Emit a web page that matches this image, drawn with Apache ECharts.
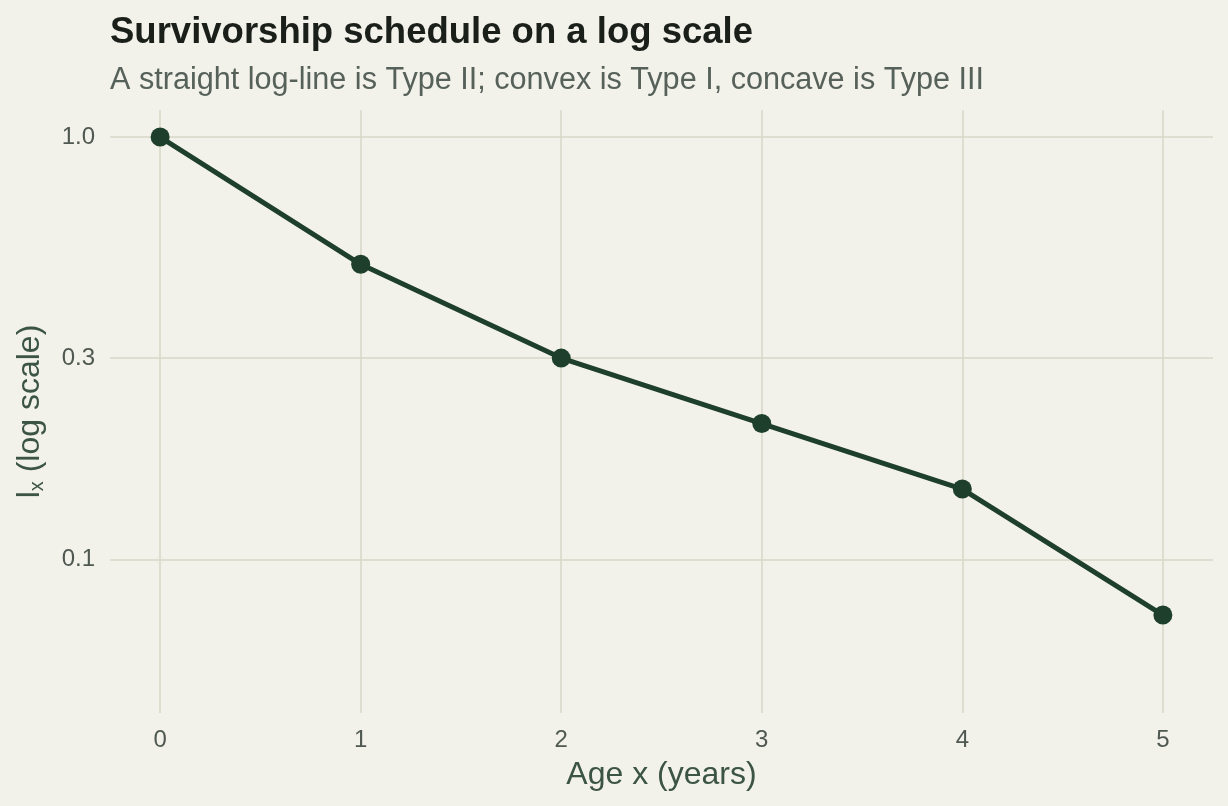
<!DOCTYPE html>
<html lang="en">

<head>
    <meta charset="UTF-8">
    <title>Survivorship schedule on a log scale</title>
    <script type="text/javascript" src="https://cdn.jsdelivr.net/npm/echarts@6/dist/echarts.min.js"></script>
    <style>
        html, body {
            margin: 0;
            padding: 0;
            background: #f2f1ea;
        }

        #main {
            width: 1228px;
            height: 806px;
        }
    </style>
</head>

<body>
    <div id="main"></div>

    <script type="text/javascript">
        // age classes and lx values
        var ages = [0, 1, 2, 3, 4, 5];
        var lx = [1.0, 0.5, 0.3, 0.21, 0.147, 0.074];
        var yTicks = [0.1, 0.3, 1.0];

        var data = [];
        for (var i = 0; i < ages.length; i++) {
            data.push([ages[i], lx[i]]);
        }

        var myChart = echarts.init(document.getElementById('main'));
        var font = '"Liberation Sans", Arial, Helvetica, sans-serif';

        var option = {
            backgroundColor: '#f2f1ea',
            animation: false,
            title: {
                text: 'Survivorship schedule on a log scale',
                subtext: 'A straight log-line is Type II; convex is Type I, concave is Type III',
                left: 105,
                top: 9,
                itemGap: 14,
                textStyle: {
                    fontFamily: font,
                    fontSize: 36.5,
                    fontWeight: 'bold',
                    color: '#1a1f1a'
                },
                subtextStyle: {
                    fontFamily: font,
                    fontSize: 30.6,
                    color: '#56615a'
                }
            },
            grid: {
                left: 110,
                right: 15,
                top: 110,
                bottom: 93
            },
            xAxis: {
                type: 'value',
                min: -0.25,
                max: 5.25,
                name: 'Age x (years)',
                nameLocation: 'middle',
                nameGap: 46,
                nameTextStyle: {
                    fontFamily: font,
                    fontSize: 32,
                    color: '#3b5443'
                },
                axisLine: { show: false },
                axisTick: { show: false, customValues: ages },
                axisLabel: {
                    customValues: ages,
                    fontFamily: font,
                    fontSize: 24,
                    color: '#4f5851',
                    margin: 15
                },
                splitLine: {
                    lineStyle: { color: '#d7d7c7', width: 1.5 }
                }
            },
            yAxis: {
                type: 'log',
                logBase: 10,
                min: 0.0434,
                max: 1.159,
                name: '{a|l}{s|x}{a| (log scale)}',
                nameLocation: 'middle',
                nameGap: 63,
                nameTextStyle: {
                    color: '#3b5443',
                    rich: {
                        a: { fontFamily: font, fontSize: 32, color: '#3b5443' },
                        s: { fontFamily: font, fontSize: 20, color: '#3b5443', padding: [13, 0, 0, 0] }
                    }
                },
                axisLine: { show: false },
                axisTick: { show: false, customValues: yTicks },
                axisLabel: {
                    customValues: yTicks,
                    fontFamily: font,
                    fontSize: 24,
                    color: '#4f5851',
                    margin: 15,
                    padding: [3, 0, 0, 0],
                    formatter: function (v) {
                        return Number(v).toFixed(1);
                    }
                },
                splitLine: {
                    lineStyle: { color: '#d7d7c7', width: 1.5 }
                }
            },
            series: [{
                type: 'line',
                data: data,
                symbol: 'circle',
                symbolSize: 19,
                lineStyle: { color: '#1e3f2c', width: 5 },
                itemStyle: { color: '#1e3f2c' }
            }]
        };

        myChart.setOption(option);
    </script>
</body>

</html>
